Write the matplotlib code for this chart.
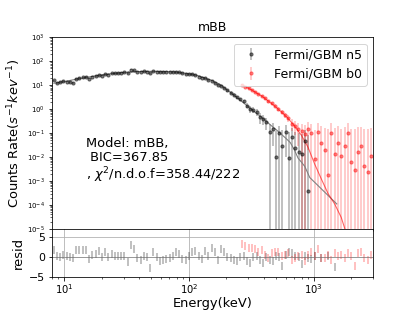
import numpy as np
import matplotlib
matplotlib.use('Agg')
import matplotlib.pyplot as plt

# Fermi/GBM n5 (NaI) - energia, rate, sfalma, resid
n5_E = [8.3, 8.8, 9.3, 9.9, 10.5, 11.1, 11.8, 12.5, 13.3, 14.1,
        15.0, 15.9, 16.9, 17.9, 19.0, 20.1, 21.4, 22.7, 24.1, 25.6,
        27.1, 28.8, 30.5, 32.4, 34.4, 36.5, 38.7, 41.1, 43.6, 46.3,
        49.1, 52.1, 55.3, 58.7, 62.3, 66.1, 70.2, 74.5, 79.0, 83.9,
        89.0, 94.5, 100, 106, 113, 120, 127, 135, 143, 152,
        161, 171, 181, 192, 204, 217, 230, 244, 259, 275,
        292, 310, 329, 349, 370, 393, 417, 443, 470, 499,
        529, 562, 596, 633, 672, 713, 757, 803, 852, 904,
        960, 1020, 1150, 1300, 1470]
n5_rate = [16, 12.5, 13.5, 15, 14, 13.5, 12.5, 19, 20, 21.5,
           22, 18.5, 23, 24, 26, 25, 29, 27.5, 31, 31,
           32, 33, 34, 31, 45, 42, 37, 36, 38, 37,
           31, 39, 37, 35, 35, 35.5, 35.5, 36, 37, 35,
           31, 29, 29, 29.5, 27, 23, 20.5, 19.5, 16.5, 15.5,
           12.5, 10, 9.5, 7.8, 6.0, 4.9, 4.0, 3.1, 2.6, 2.1,
           1.4, 1.0, 0.95, 0.75, 0.45, 0.40, 0.28, 0.11, 0.15, 0.010,
           0.10, 0.03, 0.11, 0.009, 0.07, 0.024, 0.017, 0.014, 0.049, 0.0004,
           np.nan, np.nan, np.nan, np.nan, np.nan]
n5_err = [1.2, 1.1, 1.1, 1.1, 1.0, 1.0, 1.0, 1.1, 1.1, 1.1,
          1.1, 1.1, 1.2, 1.2, 1.2, 1.2, 1.3, 1.3, 1.3, 1.3,
          1.4, 1.4, 1.4, 1.4, 1.6, 1.6, 1.5, 1.5, 1.5, 1.5,
          1.4, 1.5, 1.5, 1.4, 1.4, 1.4, 1.4, 1.4, 1.4, 1.4,
          1.3, 1.3, 1.3, 1.3, 1.2, 1.1, 1.1, 1.0, 0.95, 0.9,
          0.85, 0.8, 0.75, 0.7, 0.6, 0.55, 0.5, 0.45, 0.4, 0.37,
          0.33, 0.3, 0.27, 0.24, 0.21, 0.18, 0.15, 0.13, 0.12, 0.11,
          0.1, 0.1, 0.1, 0.1, 0.09, 0.09, 0.08, 0.08, 0.08, 0.08,
          np.nan, np.nan, np.nan, np.nan, np.nan]
n5_resid = [1.8, 0.2, 0, 0.5, 0.1, 0, -0.3, 1.8, 1.7, 1.6,
            1.6, -0.5, 0.5, 0.8, 1.4, 0, 1.1, -0.1, 0.6, 0.3,
            0.3, 0.3, 0.3, -1.3, 2.9, 1.9, -0.3, -0.7, 0.3, 0,
            -2.7, 1.1, 0, -1.1, -0.7, -0.5, -0.3, 0.3, 1.3, 0.6,
            -0.5, -0.7, 0.3, 1.3, 1.4, 0.2, -0.5, 1.4, 0.3, 2.2,
            1.3, -0.7, 2.0, 1.3, 0, -0.3, -0.7, -1.1, 0, 0.1,
            -1.1, -1.5, 0, 0.1, -0.7, -1.5, 0, -0.7, -1.1, 0.2,
            0, -2.3, 0.5, 1.3, 0.9, 0.1, 0, -1.9, 0.1, -0.2,
            -0.6, 0.3, -0.3, 0.2, -2.5]

# Fermi/GBM b0 (BGO)
b0_E = [266, 283, 301, 320, 340, 361, 384, 408, 434, 461,
        490, 521, 554, 589, 626, 665, 707, 752, 799, 849,
        903, 960, 1020, 1085, 1153, 1226, 1303, 1385, 1472, 1565,
        1663, 1768, 1880, 1998, 2124, 2258, 2400, 2551, 2712, 2883]
b0_rate = [10, 8.8, 7.5, 6.3, 5.2, 4.3, 3.6, 2.8, 2.1, 1.8,
           1.4, 1.05, 0.78, 0.56, 0.42, 0.25, 0.2, 0.15, 0.12, 0.09,
           0.15, 0.10, 0.008, 0.11, 0.04, 0.02, 0.0017, 0.1, 0.013, 0.04,
           0.011, 0.03, 0.1, 0.006, 0.003, 0.017, 0.03, 0.0044, 0.0023, 0.011]
b0_err = [0.8, 0.7, 0.6, 0.5, 0.45, 0.4, 0.35, 0.3, 0.27, 0.25,
          0.22, 0.2, 0.17, 0.15, 0.14, 0.13, 0.12, 0.12, 0.12, 0.12,
          0.13, 0.14, 0.13, 0.15, 0.15, 0.14, 0.15, 0.16, 0.15, 0.16,
          0.14, 0.15, 0.16, 0.14, 0.15, 0.16, 0.15, 0.14, 0.15, 0.16]
b0_resid = [3.1, 2.6, 2.1, 2.2, 2.0, 1.2, 1.7, 0.5, -0.3, 0.9,
            1.1, 1.3, 0.1, 0.5, 0.9, -0.7, -0.3, 0.2, 0.5, -1.1,
            0.4, 1.3, 0.1, 1.9, -0.3, -0.3, 0.5, -0.7, 0.9, 0.1,
            0.5, -0.3, 0.9, 0.1, -2.3, 0.9, 1.3, -0.3, -0.7, 0.5]

# modelo mBB
n5_model_E = [8.3, 10, 12, 15, 20, 25, 30, 40, 50, 60, 70, 80, 100, 120, 150,
              180, 213, 250, 300, 350, 400, 450, 500, 550, 600, 650, 700,
              750, 800, 850, 930, 1530]
n5_model = [12, 14, 17, 21, 27, 31, 34, 37, 38, 37.5, 36.5, 35, 30, 24.5, 16.5,
            10.5, 5.2, 2.7, 1.25, 0.65, 0.38, 0.22, 0.14, 0.09, 0.06, 0.04, 0.02,
            0.009, 0.006, 0.004, 0.0014, 0.00011]
b0_model_E = [266, 320, 384, 461, 554, 626, 707, 799, 903, 1020, 1153, 1303,
              1472, 1663, 1880, 2124]
b0_model = [10.5, 6.2, 3.5, 1.7, 0.75, 0.40, 0.19, 0.08, 0.025, 0.005, 0.0012,
            0.0003, 0.00011, 0.00003, 0.000004, 0.0000005]

fig = plt.figure(figsize=(5.76, 4.32), dpi=72)
gs = fig.add_gridspec(2, 1, height_ratios=[4, 1], hspace=0)
ax = fig.add_subplot(gs[0])
axr = fig.add_subplot(gs[1], sharex=ax)

ax.errorbar(n5_E, n5_rate, yerr=n5_err, fmt='o', color=(0, 0, 0, 0.5),
            ecolor=(0, 0, 0, 0.3), ms=3.2, elinewidth=1.6, label='Fermi/GBM n5')
ax.errorbar(b0_E, b0_rate, yerr=b0_err, fmt='o', color=(1, 0, 0, 0.45),
            ecolor=(1, 0, 0, 0.25), ms=3.2, elinewidth=1.6, label='Fermi/GBM b0')
ax.plot(n5_model_E, n5_model, color='gray', lw=1.1)
ax.plot(b0_model_E, b0_model, color='r', alpha=0.6, lw=1.1)

ax.set_xscale('log')
ax.set_yscale('log')
ax.set_xlim(8, 3000)
ax.set_ylim(1e-5, 1e3)
ax.set_yticks([10.0 ** k for k in range(-5, 4)])
ax.tick_params(axis='y', labelsize=7)
ax.tick_params(axis='x', labelbottom=False)
ax.set_title('mBB', fontsize=12.5)
ax.set_ylabel('Counts Rate($s^{-1}kev^{-1}$)', fontsize=13)
ax.legend(loc='upper right', fontsize=12.5)
ax.text(0.106, 0.48, 'Model: mBB,\n BIC=367.85\n, $\\chi^2$/n.d.o.f=358.44/222',
        transform=ax.transAxes, fontsize=13, va='top', ha='left', linespacing=1.1)

axr.errorbar(n5_E, n5_resid, yerr=1, fmt='none', ecolor=(0, 0, 0, 0.3), elinewidth=1.6)
axr.errorbar(b0_E, b0_resid, yerr=1, fmt='none', ecolor=(1, 0, 0, 0.3), elinewidth=1.6)
axr.axhline(0, color='gray', lw=1, alpha=0.6)
axr.grid(True)
axr.set_ylim(-5, 7)
axr.set_yticks([-5, 0, 5])
axr.tick_params(axis='y', labelsize=11)
axr.tick_params(axis='x', labelsize=10, pad=2)
axr.set_ylabel('resid', fontsize=13)
axr.set_xlabel('Energy(keV)', fontsize=13, labelpad=1)

fig.savefig('out.png', dpi=72)
